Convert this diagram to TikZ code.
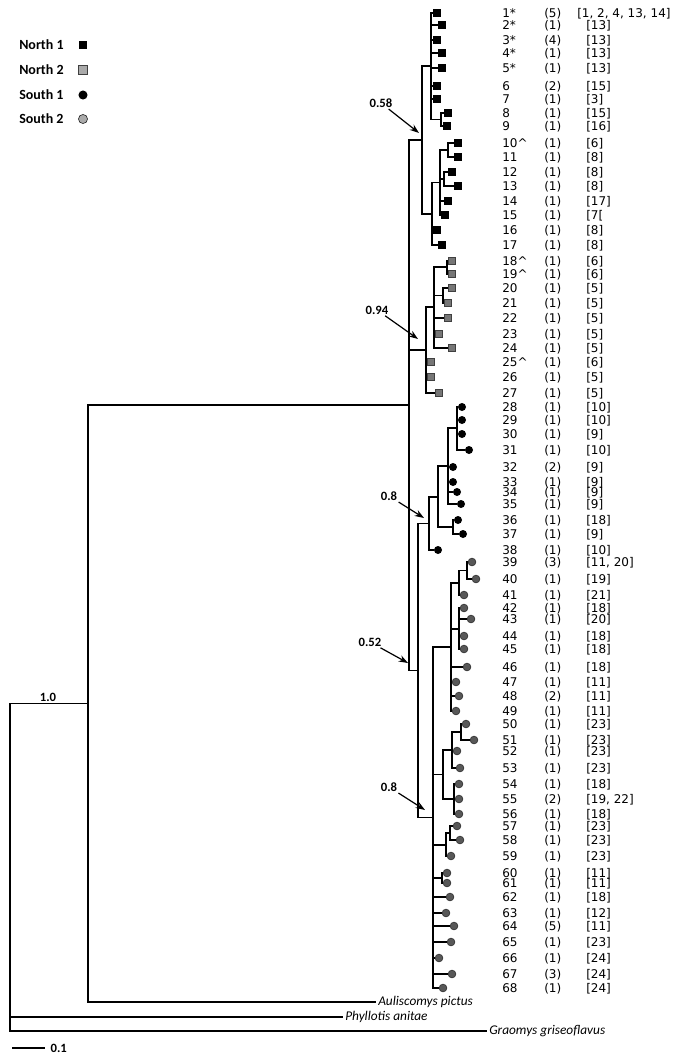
\documentclass[tikz,border=0pt]{standalone}
\usepackage{fontspec}
\usepackage{tikz}
\usetikzlibrary{arrows.meta, positioning, calc}
\setmainfont{DejaVu Sans}
\newfontfamily\calibri{Carlito}
\definecolor{treegray}{RGB}{118, 118, 118}
\definecolor{dotgray}{RGB}{88, 88, 88}
\definecolor{keygray}{RGB}{170, 170, 170}

\begin{document}
\begin{tikzpicture}[x=0.75pt, y=-0.75pt,
    branch/.style={line width=1.4pt},
    mkNa/.style={rectangle, fill=black, inner sep=0pt, minimum size=5.4pt},
    mkNb/.style={rectangle, draw=black!75, fill=treegray, line width=0.5pt, inner sep=0pt, minimum size=5.2pt},
    mkSa/.style={circle, fill=black, inner sep=0pt, minimum size=6pt},
    mkSb/.style={circle, draw=black!80, fill=dotgray, line width=0.5pt, inner sep=0pt, minimum size=5.8pt},
    leaflab/.style={font=\fontsize{9}{10}\selectfont, inner sep=0pt, text height=6.6pt, text depth=0pt, anchor=west},
    boot/.style={font=\calibri\bfseries\fontsize{9.5}{11}\selectfont, inner sep=1pt},
    keylab/.style={font=\calibri\bfseries\fontsize{10.5}{12}\selectfont, inner sep=0pt, anchor=west},
    species/.style={font=\calibri\itshape\fontsize{10}{12}\selectfont, inner sep=1.5pt, anchor=west},
    arr/.style={-{Stealth[length=7pt, width=5pt]}, line width=0.9pt}]
    \path[use as bounding box, fill=white] (0,0) rectangle (673,1057);

    % Legend
    \node[keylab] (kN1) at (19,45) {North 1};
    \node[keylab] (kN2) at (19,70) {North 2};
    \node[keylab] (kS1) at (19,95) {South 1};
    \node[keylab] (kS2) at (19,119) {South 2};
    \node[mkNa, minimum size=6.5pt] (kmN1) at (83,45) {};
    \node[mkNb, fill=keygray, minimum size=6.3pt] (kmN2) at (83,70) {};
    \node[mkSa, minimum size=6.8pt] (kmS1) at (83,95) {};
    \node[mkSb, fill=keygray, minimum size=6.8pt] (kmS2) at (83,119) {};

    % Leaves and their labels
    \foreach \i/\x/\y/\mk/\num/\cnt/\refs in {
        1/437/13/mkNa/1*/5/{[1, 2, 4, 13, 14]}, 2/442/25/mkNa/2*/1/{[13]},
        3/437/40/mkNa/3*/4/{[13]}, 4/442/53/mkNa/4*/1/{[13]},
        5/442/68/mkNa/5*/1/{[13]}, 6/437/86/mkNa/6/2/{[15]},
        7/437/99/mkNa/7/1/{[3]}, 8/448/113/mkNa/8/1/{[15]},
        9/447/126/mkNa/9/1/{[16]}, 10/458/143/mkNa/10\textasciicircum/1/{[6]},
        11/458/157/mkNa/11/1/{[8]}, 12/452/172/mkNa/12/1/{[8]},
        13/458/186/mkNa/13/1/{[8]}, 14/448/201/mkNa/14/1/{[17]},
        15/445/215/mkNa/15/1/{[7[}, 16/437/230/mkNa/16/1/{[8]},
        17/442/245/mkNa/17/1/{[8]}, 18/452/261/mkNb/18\textasciicircum/1/{[6]},
        19/452/274/mkNb/19\textasciicircum/1/{[6]}, 20/452/288/mkNb/20/1/{[5]},
        21/448/303/mkNb/21/1/{[5]}, 22/448/318/mkNb/22/1/{[5]},
        23/439/334/mkNb/23/1/{[5]}, 24/452/348/mkNb/24/1/{[5]},
        25/431/362/mkNb/25\textasciicircum/1/{[6]}, 26/431/377/mkNb/26/1/{[5]},
        27/439/393/mkNb/27/1/{[5]}, 28/462/407/mkSa/28/1/{[10]},
        29/462/420/mkSa/29/1/{[10]}, 30/462/434/mkSa/30/1/{[9]},
        31/469/450/mkSa/31/1/{[10]}, 32/453/467/mkSa/32/2/{[9]},
        33/453/482/mkSa/33/1/{[9]}, 34/457/492/mkSa/34/1/{[9]},
        35/461/504/mkSa/35/1/{[9]}, 36/458/520/mkSa/36/1/{[18]},
        37/463/534/mkSa/37/1/{[9]}, 38/438/550/mkSa/38/1/{[10]},
        39/472/562/mkSb/39/3/{[11, 20]}, 40/476/579/mkSb/40/1/{[19]},
        41/464/595/mkSb/41/1/{[21]}, 42/464/608/mkSb/42/1/{[18]},
        43/471/619/mkSb/43/1/{[20]}, 44/464/636/mkSb/44/1/{[18]},
        45/464/649/mkSb/45/1/{[18]}, 46/467/667/mkSb/46/1/{[18]},
        47/456/682/mkSb/47/1/{[11]}, 48/459/696/mkSb/48/2/{[11]},
        49/456/711/mkSb/49/1/{[11]}, 50/466/724/mkSb/50/1/{[23]},
        51/474/740/mkSb/51/1/{[23]}, 52/457/751/mkSb/52/1/{[23]},
        53/460/768/mkSb/53/1/{[23]}, 54/459/784/mkSb/54/1/{[18]},
        55/459/799/mkSb/55/2/{[19, 22]}, 56/459/814/mkSb/56/1/{[18]},
        57/457/826/mkSb/57/1/{[23]}, 58/460/840/mkSb/58/1/{[23]},
        59/451/856/mkSb/59/1/{[23]}, 60/447/873/mkSb/60/1/{[11]},
        61/447/883/mkSb/61/1/{[11]}, 62/450/897/mkSb/62/1/{[18]},
        63/446/913/mkSb/63/1/{[12]}, 64/454/926/mkSb/64/5/{[11]},
        65/451/942/mkSb/65/1/{[23]}, 66/439/958/mkSb/66/1/{[24]},
        67/452/974/mkSb/67/3/{[24]}, 68/443/988/mkSb/68/1/{[24]}} {
        \pgfmathsetmacro{\bx}{ifthenelse(\i==1,577,586)}
        \node[\mk] (l\i) at (\x,\y) {};
        \node[leaflab] (num\i) at (502,\y) {\num};
        \node[leaflab] (cnt\i) at (544,\y) {(\cnt)};
        \node[leaflab] (ref\i) at (\bx,\y) {\refs};
    }

    % Outgroups
    \node[species] (auli) at (376,1002) {Auliscomys pictus};
    \node[species] (phyl) at (343,1017) {Phyllotis anitae};
    \node[species] (grao) at (487,1031) {Graomys griseoflavus};

    % Internal nodes
    \coordinate (p89) at (441,119.5);
    \coordinate (n1a) at (431,66);
    \coordinate (p1011) at (448,150);
    \coordinate (p1213) at (444,179);
    \coordinate (n1c) at (440,182.5);
    \coordinate (n1b) at (432,214);
    \coordinate (north1) at (422,140);
    \coordinate (p1819) at (447,267);
    \coordinate (p2021) at (443,295.5);
    \coordinate (n2a) at (434,307);
    \coordinate (north2) at (426,350);
    \coordinate (s1d) at (457,428);
    \coordinate (s1c) at (448,466);
    \coordinate (p3637) at (453,527);
    \coordinate (s1b) at (438,497);
    \coordinate (south1) at (429,523.5);
    \coordinate (p3940) at (467,570.5);
    \coordinate (s2a) at (459,583);
    \coordinate (s2b) at (459,629);
    \coordinate (s2c) at (451,647);
    \coordinate (p5051) at (461,732);
    \coordinate (s2e) at (452,750);
    \coordinate (s2f) at (454,799);
    \coordinate (s2d) at (443,774.5);
    \coordinate (p5758) at (450,833);
    \coordinate (s2g) at (446,845);
    \coordinate (p6061) at (442,878);
    \coordinate (south2) at (433,817.5);
    \coordinate (south) at (418,670.5);
    \coordinate (ingroup) at (409,405);
    \coordinate (ingroot) at (88,703.5);
    \coordinate (root) at (10,867);

    % Branches
    \foreach \p/\c in {n1a/l1, n1a/l2, n1a/l3, n1a/l4, n1a/l5, n1a/l6, n1a/l7, n1a/p89,
        p89/l8, p89/l9, p1011/l10, p1011/l11, p1213/l12, p1213/l13,
        n1c/p1011, n1c/p1213, n1c/l14, n1c/l15, n1b/n1c, n1b/l16, n1b/l17,
        north1/n1a, north1/n1b,
        p1819/l18, p1819/l19, p2021/l20, p2021/l21,
        n2a/p1819, n2a/p2021, n2a/l22, n2a/l23, n2a/l24,
        north2/n2a, north2/l25, north2/l26, north2/l27,
        s1d/l28, s1d/l29, s1d/l30, s1d/l31,
        s1c/s1d, s1c/l32, s1c/l33, s1c/l34, s1c/l35,
        p3637/l36, p3637/l37, s1b/s1c, s1b/p3637, south1/s1b, south1/l38,
        p3940/l39, p3940/l40, s2a/p3940, s2a/l41,
        s2b/l42, s2b/l43, s2b/l44, s2b/l45,
        s2c/s2a, s2c/s2b, s2c/l46, s2c/l47, s2c/l48, s2c/l49,
        p5051/l50, p5051/l51, s2e/p5051, s2e/l52, s2e/l53,
        s2f/l54, s2f/l55, s2f/l56, s2d/s2e, s2d/s2f,
        p5758/l57, p5758/l58, s2g/p5758, s2g/l59, p6061/l60, p6061/l61,
        south2/s2c, south2/s2d, south2/s2g, south2/p6061,
        south2/l62, south2/l63, south2/l64, south2/l65, south2/l66, south2/l67, south2/l68,
        south/south1, south/south2,
        ingroup/north1, ingroup/north2, ingroup/south,
        ingroot/ingroup, ingroot/auli, root/ingroot, root/phyl, root/grao}
        \draw[branch] (\p) |- (\c);

    % Support values
    \node[boot] (bs58) at (381,103) {0.58};
    \node[boot] (bs94) at (377,310) {0.94};
    \node[boot] (bs80a) at (389,496) {0.8};
    \node[boot] (bs52) at (370,642) {0.52};
    \node[boot] (bs80b) at (389,787) {0.8};
    \node[boot, above=0pt of ingroot, xshift=-30pt] (bs10) {1.0};
    \coordinate (t58) at (419,133);
    \coordinate (t94) at (418,339);
    \coordinate (t80a) at (424,518);
    \coordinate (t52) at (408,663);
    \coordinate (t80b) at (425,810);
    \draw[arr] (bs58) -- (t58);
    \draw[arr] (bs94) -- (t94);
    \draw[arr] (bs80a) -- (t80a);
    \draw[arr] (bs52) -- (t52);
    \draw[arr] (bs80b) -- (t80b);

    % Scale bar
    \coordinate (sb0) at (12,1048);
    \coordinate (sb1) at (45,1048);
    \draw[line width=1.2pt] (sb0) -- (sb1);
    \node[boot, right=3pt of sb1] (sbl) {0.1};
\end{tikzpicture}
\end{document}
